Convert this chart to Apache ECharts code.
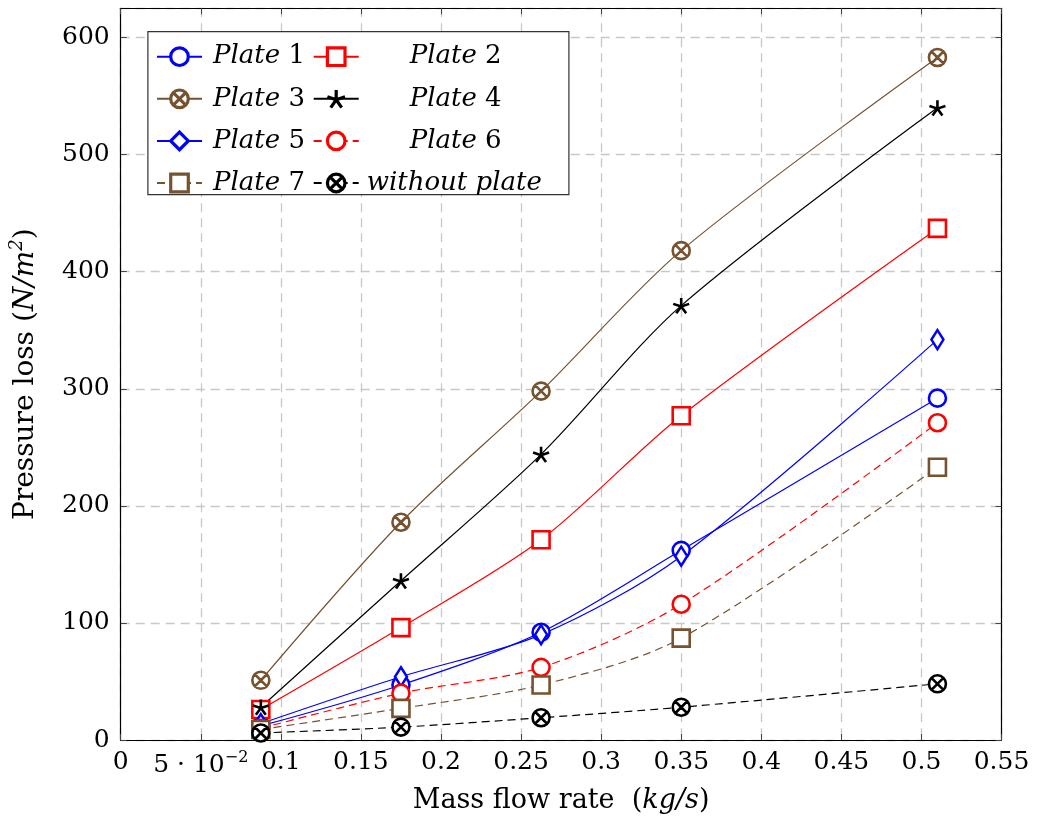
<!DOCTYPE html>
<html>
<head>
<meta charset="utf-8">
<script src="https://cdn.jsdelivr.net/npm/echarts@6/dist/echarts.min.js"></script>
<style>
  html, body { margin: 0; padding: 0; background: #fff; }
  #chart { width: 1041px; height: 826px; }
</style>
</head>
<body>
<div id="chart"></div>
<script>
// Mass flow rate (kg/s) at which each pressure loss was measured
const massFlow = [0.0875, 0.175, 0.2625, 0.35, 0.51];

// Pressure loss (N/m^2) for each plate configuration
const plate1 = [12, 47, 92, 162, 292];
const plate2 = [26, 96, 171, 277, 437];
const plate3 = [51, 186, 298, 418, 583];
const plate4 = [28, 136, 244, 371, 540];
const plate5 = [14, 54, 90, 157, 342];
const plate6 = [10, 40, 62, 116, 271];
const plate7 = [9, 27, 47, 87, 233];
const withoutPlate = [6, 11, 19, 28, 48];

const seriesNames = ['Plate 1', 'Plate 2', 'Plate 3', 'Plate 4', 'Plate 5', 'Plate 6', 'Plate 7', 'without plate'];
const xTicks = [0, 0.05, 0.1, 0.15, 0.2, 0.25, 0.3, 0.35, 0.4, 0.45, 0.5, 0.55];
const yTicks = [0, 100, 200, 300, 400, 500, 600];

const SERIF = '"DejaVu Serif", "Liberation Serif", serif';
const BLUE = '#0000ff', RED = '#ff0000', BROWN = '#76522f', BLACK = '#000000';

// circle with a cross inside
const OTIMES = 'path://M20,10A10,10,0,1,1,0,10A10,10,0,1,1,20,10ZM2.93,2.93L17.07,17.07M17.07,2.93L2.93,17.07';
// five-armed asterisk
const STAR = 'path://M10,10L10,0M10,10L19.51,6.91M10,10L15.88,18.09M10,10L4.12,18.09M10,10L0.49,6.91';

function pairs(vals) { return massFlow.map((x, i) => [x, vals[i]]); }

function makeSeries(name, vals, color, symbol, size, dashed, fill) {
  return {
    name: name,
    type: 'line',
    data: pairs(vals),
    smooth: 0.3,
    symbol: symbol,
    symbolSize: size,
    symbolKeepAspect: true,
    showAllSymbol: true,
    lineStyle: { color: color, width: 1.2, type: dashed ? [8, 5] : 'solid' },
    itemStyle: { color: fill || '#ffffff', borderColor: color, borderWidth: 2.6 },
    emphasis: { disabled: true },
    z: 2
  };
}

const series = [
  makeSeries('Plate 1', plate1, BLUE, 'circle', 17, false),
  makeSeries('Plate 2', plate2, RED, 'rect', 17, false),
  makeSeries('Plate 3', plate3, BROWN, OTIMES, 17, false),
  makeSeries('Plate 4', plate4, BLACK, STAR, 16, false, BLACK),
  makeSeries('Plate 5', plate5, BLUE, 'diamond', [12, 19], false),
  makeSeries('Plate 6', plate6, RED, 'circle', 17, true),
  makeSeries('Plate 7', plate7, BROWN, 'rect', 17, true),
  makeSeries('without plate', withoutPlate, BLACK, OTIMES, 17, true)
];

const LEGEND_FONT = 26;
const richText = {
  i: { fontFamily: SERIF, fontStyle: 'italic', fontSize: LEGEND_FONT, color: '#000', lineHeight: 22 },
  n: { fontFamily: SERIF, fontSize: LEGEND_FONT, color: '#000', lineHeight: 22 }
};

function legendLabel(name) {
  if (name.indexOf('Plate ') === 0) return '{i|Plate} {n|' + name.slice(6) + '}';
  return '{i|' + name + '}';
}

function legendColumn(names, left, pads) {
  return {
    orient: 'vertical',
    left: left,
    top: 43.7,
    padding: 0,
    itemWidth: 45,
    itemHeight: 22,
    itemGap: 16.1,
    selectedMode: false,
    z: 6,
    itemStyle: { borderWidth: 3.2 },
    data: names.map((n, k) => ({ name: n, textStyle: { padding: [0, 0, 0, pads[k]] } })),
    formatter: legendLabel,
    textStyle: { fontFamily: SERIF, fontSize: LEGEND_FONT, color: '#000', lineHeight: 22, rich: richText }
  };
}

function xLabel(v) {
  const r = Math.round(v * 100) / 100;
  if (r === 0.05) return '{n|5 · 10}{sup|−2}';
  return '{n|' + String(r) + '}';
}

const chart = echarts.init(document.getElementById('chart'), null, { renderer: 'canvas' });

chart.setOption({
  animation: false,
  backgroundColor: '#ffffff',
  grid: { left: 120.7, right: 39.5, top: 8.3, bottom: 86, containLabel: false },
  xAxis: [
    {
      type: 'value', min: 0, max: 0.55, interval: 0.05, position: 'bottom',
      name: '{t|Mass flow rate  (}{it|kg/s}{t|)}',
      nameLocation: 'middle', nameGap: 47,
      nameTextStyle: {
        rich: {
          t: { fontFamily: SERIF, fontSize: 27, color: '#000' },
          it: { fontFamily: SERIF, fontSize: 27, fontStyle: 'italic', color: '#000' }
        }
      },
      axisLine: { show: true, onZero: false, lineStyle: { color: '#000', width: 1.2 } },
      axisTick: { show: true, inside: true, length: 6, lineStyle: { color: '#444', width: 1 } },
      axisLabel: {
        margin: 10, formatter: xLabel, showMaxLabel: true,
        rich: {
          n: { fontFamily: SERIF, fontSize: 25, color: '#000' },
          sup: { fontFamily: SERIF, fontSize: 16, color: '#000', padding: [0, 0, 14, 0] }
        }
      },
      splitLine: { show: true, lineStyle: { color: '#c8c8c8', width: 1.3, type: [9, 6] } }
    },
    {
      type: 'value', min: 0, max: 0.55, interval: 0.05, position: 'top',
      axisLine: { show: true, onZero: false, lineStyle: { color: '#000', width: 1.2 } },
      axisTick: { show: true, inside: true, length: 6, lineStyle: { color: '#444', width: 1 } },
      axisLabel: { show: false },
      splitLine: { show: false }
    }
  ],
  yAxis: [
    {
      type: 'value', min: 0, max: 625, interval: 100, position: 'left',
      name: '{t|Pressure loss (}{it|N/m}{sup|2}{t|)}',
      nameLocation: 'middle', nameGap: 78, nameRotate: 90,
      nameTextStyle: {
        rich: {
          t: { fontFamily: SERIF, fontSize: 28, color: '#000' },
          it: { fontFamily: SERIF, fontSize: 28, fontStyle: 'italic', color: '#000' },
          sup: { fontFamily: SERIF, fontSize: 18, fontStyle: 'italic', color: '#000', padding: [0, 0, 16, 0] }
        }
      },
      axisLine: { show: true, onZero: false, lineStyle: { color: '#000', width: 1.2 } },
      axisTick: { show: true, inside: true, length: 6, lineStyle: { color: '#444', width: 1 } },
      axisLabel: {
        margin: 11, showMaxLabel: false,
        fontFamily: SERIF, fontSize: 25, color: '#000',
        formatter: v => (yTicks.indexOf(v) >= 0 ? String(v) : '')
      },
      splitLine: { show: true, lineStyle: { color: '#c8c8c8', width: 1.3, type: [9, 6] } }
    },
    {
      type: 'value', min: 0, max: 625, interval: 100, position: 'right',
      axisLine: { show: true, onZero: false, lineStyle: { color: '#000', width: 1.2 } },
      axisTick: { show: true, inside: true, length: 6, lineStyle: { color: '#444', width: 1 } },
      axisLabel: { show: false },
      splitLine: { show: false }
    }
  ],
  legend: [
    legendColumn(['Plate 1', 'Plate 3', 'Plate 5', 'Plate 7'], 156, [6, 6, 6, 6]),
    legendColumn(['Plate 2', 'Plate 4', 'Plate 6', 'without plate'], 312.7, [46, 46, 46, 3])
  ],
  graphic: [
    {
      type: 'rect', left: 147.3, top: 31, z: 5,
      shape: { width: 421, height: 163 },
      style: { fill: '#ffffff', stroke: '#333333', lineWidth: 1.2 }
    }
  ],
  series: series
});
</script>
</body>
</html>
